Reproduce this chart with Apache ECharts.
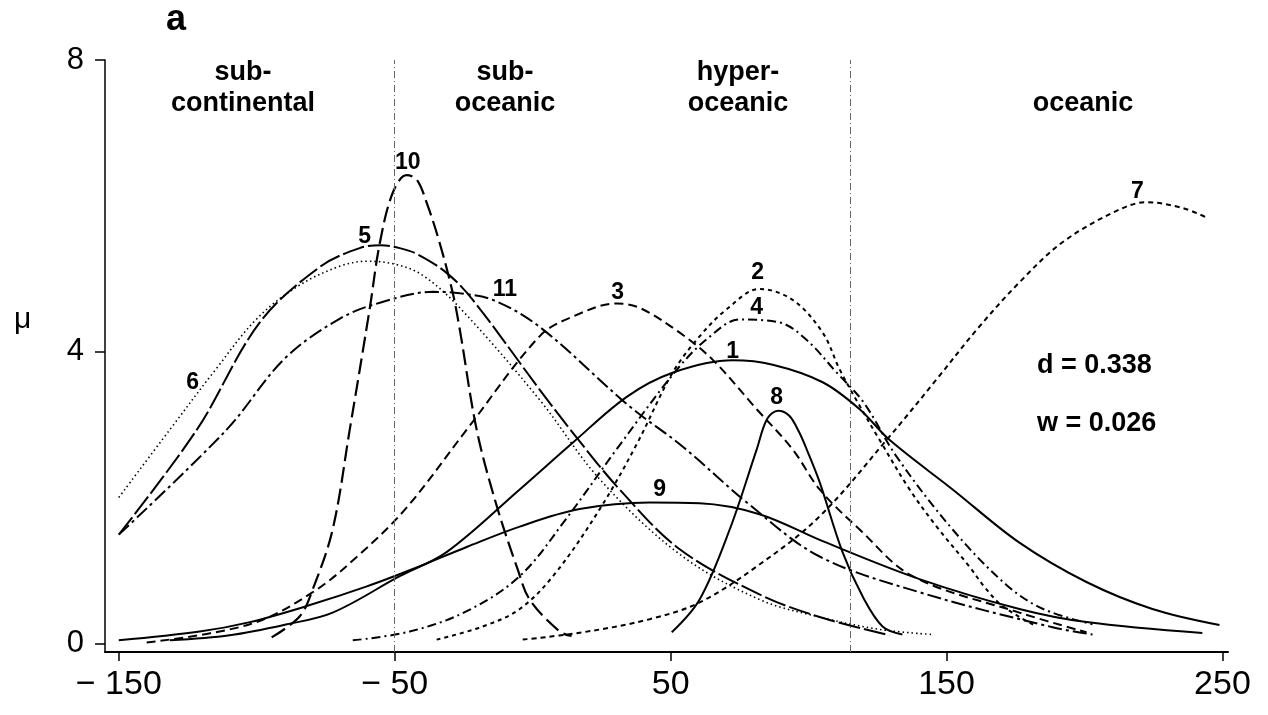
<!DOCTYPE html>
<html><head><meta charset="utf-8">
<script src="https://cdn.jsdelivr.net/npm/echarts@6/dist/echarts.min.js"></script>
<style>html,body{margin:0;padding:0;background:#fff}#c{width:1268px;height:715px}</style>
</head><body><div id="c"></div>
<script>
// ---- data ----
const xTicks = [-150, -50, 50, 150, 250];
const yTicks = [0, 4, 8];
const zoneBounds = [-50, 115];

const curve1 = [[-131.5,0.04],[-109.8,0.11],[-89.1,0.26],[-72.5,0.42],[-48.2,0.92],[-31.2,1.25],[-4.7,2.11],[14.5,2.75],[34.1,3.38],[50.7,3.71],[72.5,3.88],[87,3.82],[105.1,3.58],[118.5,3.21],[129.3,2.79],[152.2,2.11],[176.4,1.38],[200.7,0.84],[224.6,0.47],[248.9,0.25]];
const curve2 = [[-34.8,0.05],[-18.1,0.23],[-4.7,0.47],[8,0.95],[24.3,1.84],[37.7,2.73],[50.7,3.71],[60.5,4.21],[70.3,4.58],[82.2,4.86],[94.2,4.71],[105.1,4.26],[111.2,3.76],[117.4,3.33],[125.7,2.79],[136.6,2.11],[146.4,1.6],[158.3,1.05],[164,0.76],[170.3,0.51],[182.6,0.23]];
const curve3 = [[-139.9,0.01],[-102.5,0.26],[-79.7,0.7],[-62.7,1.22],[-45.7,1.86],[-23.9,2.93],[2.5,4.21],[14.5,4.48],[30.4,4.66],[38.8,4.6],[53.3,4.26],[65.2,3.89],[81.2,3.21],[94.2,2.66],[104,2.11],[118.5,1.56],[137.7,0.92],[176.4,0.42],[200.7,0.15]];
const curve4 = [[-65.2,0.04],[-44.6,0.16],[-23.9,0.44],[-4.7,0.92],[12,1.7],[30.4,2.66],[52.2,3.75],[64,4.2],[75,4.44],[89.5,4.4],[99.3,4.16],[110,3.72],[120,3.3],[131.9,2.56],[152.2,1.56],[171.7,0.8],[185,0.47],[202.9,0.26]];
const curve5 = [[-150,1.49],[-121.7,2.93],[-98.9,4.4],[-77.2,5.16],[-62.7,5.42],[-55,5.46],[-48.2,5.42],[-42,5.34],[-31.2,5.08],[-21.7,4.71],[2.5,3.48],[14.5,2.89],[31.5,2.11],[53.3,1.29],[82.2,0.67],[104,0.36],[129.3,0.11]];
const curve6 = [[-150,2.0],[-131.5,2.93],[-115,3.75],[-100,4.45],[-85,4.9],[-70,5.17],[-60,5.24],[-50,5.2],[-40,5.05],[-26.4,4.6],[2.5,3.34],[24.3,2.25],[53.3,1.22],[82.2,0.6],[104,0.36],[125.7,0.19],[145,0.12]];
const curve7 = [[-3.6,0.05],[18.1,0.15],[42.4,0.33],[60.5,0.56],[82.2,1.08],[104,1.74],[128.3,2.79],[146.4,3.62],[160.9,4.3],[176.4,4.95],[192,5.5],[211.6,5.93],[222.5,6.05],[235.5,5.97],[244.2,5.84]];
const curve8 = [[50.4,0.15],[60.5,0.6],[71.4,1.56],[81.2,2.66],[85,3.08],[89,3.19],[93,3.12],[96.5,2.9],[99.3,2.66],[104,2.21],[112.3,1.25],[119.6,0.64],[126.8,0.23],[134,0.12]];
const curve9 = [[-150,0.04],[-120.7,0.16],[-102.5,0.29],[-81.9,0.51],[-60.1,0.78],[-42,1.04],[-23.9,1.32],[-4.7,1.6],[17,1.84],[42.4,1.93],[60.5,1.92],[82.2,1.77],[105.1,1.4],[140.2,0.88],[176.4,0.47],[200.7,0.29],[242.7,0.14]];
const curve10 = [[-94.6,0.08],[-84.4,0.37],[-79.7,0.74],[-72.5,1.56],[-66.3,2.93],[-59.1,4.58],[-55.4,5.49],[-50.7,6.18],[-45.7,6.42],[-42,6.36],[-38.4,6.04],[-33.7,5.49],[-29,4.81],[-26.4,4.3],[-20.3,2.93],[-13,1.88],[-5.4,1.01],[-1.1,0.6],[9.8,0.16],[14.1,0.1]];
const curve11 = [[-150,1.49],[-110.9,2.93],[-90,3.9],[-70,4.45],[-55.4,4.67],[-36.2,4.82],[-26.4,4.8],[-14.5,4.71],[2.5,4.34],[35.1,3.25],[54.3,2.7],[78.6,1.9],[104,1.19],[140.2,0.7],[188.4,0.22],[202.9,0.12]];

const curveNames = ['1','2','3','4','5','6','7','8','9','10','11'];
const curveLabelPts = [[72.5,4.0],[81.5,5.08],[30.8,4.81],[81.2,4.6],[-60.9,5.58],[-123.2,3.58],[219.2,6.19],[88.4,3.37],[46,2.11],[-45.3,6.59],[-10.1,4.85]];

const zoneTitles = ['sub-\ncontinental', 'sub-\noceanic', 'hyper-\noceanic', 'oceanic'];
const statsText = ['d = 0.338', 'w = 0.026'];

// ---- chart ----
const curves = [curve1,curve2,curve3,curve4,curve5,curve6,curve7,curve8,curve9,curve10,curve11];
const dashes = ['solid',[4,4],[9,5],[9,4,2,4],[22,4],[1.5,3],[5,4],'solid','solid',[16,6],[14,4,3,4]];
const widths = [2,2,2,2,2,1.6,2,2,2,2.2,2];
const FONT = '"Liberation Sans", Arial, sans-serif';

const series = curves.map((d,i)=>({
  type:'line', name:curveNames[i], data:d, smooth:0.35, showSymbol:false, silent:true,
  lineStyle:{color:'#000', width:widths[i], type:dashes[i]}
}));
series[0].markLine = {
  silent:true, symbol:'none', label:{show:false},
  lineStyle:{color:'#666', width:1, type:[7,3,1,3]},
  data: zoneBounds.map(v=>({xAxis:v}))
};
series.push({
  type:'scatter', silent:true, symbolSize:0, itemStyle:{color:'#000', opacity:1},
  data: curveLabelPts.map((p,i)=>({value:p, name:curveNames[i]})),
  label:{show:true, position:[0,0], align:'center', verticalAlign:'middle', opacity:1,
         formatter:p=>p.name, color:'#000', textBorderColor:'transparent', textBorderWidth:0,
         fontSize:23, fontWeight:'bold', fontFamily:FONT}
});

const fmt = v => v < 0 ? '\u2212 ' + Math.abs(v) : String(v);

const chart = echarts.init(document.getElementById('c'), null, {renderer:'canvas'});
chart.setOption({
  animation:false,
  backgroundColor:'#fff',
  grid:{left:105, right:40, top:60, bottom:63, containLabel:false},
  xAxis:{
    type:'value', min:-155, max:252,
    axisLine:{show:true, onZero:false, lineStyle:{color:'#000', width:2}},
    axisTick:{show:true, customValues:xTicks, length:9, lineStyle:{color:'#000', width:1.5}},
    axisLabel:{show:true, customValues:xTicks, formatter:fmt, color:'#000', fontSize:34, fontFamily:FONT, margin:16},
    splitLine:{show:false}
  },
  yAxis:{
    type:'value', min:-0.12, max:8,
    axisLine:{show:true, onZero:false, lineStyle:{color:'#000', width:1.5}},
    axisTick:{show:true, customValues:yTicks, length:10, lineStyle:{color:'#000', width:1.5}},
    axisLabel:{show:true, customValues:yTicks, color:'#000', fontSize:31, fontFamily:FONT, margin:21},
    splitLine:{show:false}
  },
  graphic:[
    {type:'text', left:166, top:2, style:{text:'a', font:'bold 36px '+FONT, fill:'#000'}},
    {type:'text', left:14, top:305, style:{text:'\u03bc', font:'30px '+FONT, fill:'#000'}},
    {type:'text', x:243, y:57, style:{text:zoneTitles[0], font:'bold 27px '+FONT, fill:'#000', align:'center', lineHeight:31}},
    {type:'text', x:505, y:57, style:{text:zoneTitles[1], font:'bold 27px '+FONT, fill:'#000', align:'center', lineHeight:31}},
    {type:'text', x:738, y:57, style:{text:zoneTitles[2], font:'bold 27px '+FONT, fill:'#000', align:'center', lineHeight:31}},
    {type:'text', x:1083, y:88, style:{text:zoneTitles[3], font:'bold 27px '+FONT, fill:'#000', align:'center', lineHeight:31}},
    {type:'text', left:1037, top:352, style:{text:statsText[0], font:'bold 27px '+FONT, fill:'#000'}},
    {type:'text', left:1037, top:410, style:{text:statsText[1], font:'bold 27px '+FONT, fill:'#000'}}
  ],
  series: series
});
</script></body></html>
